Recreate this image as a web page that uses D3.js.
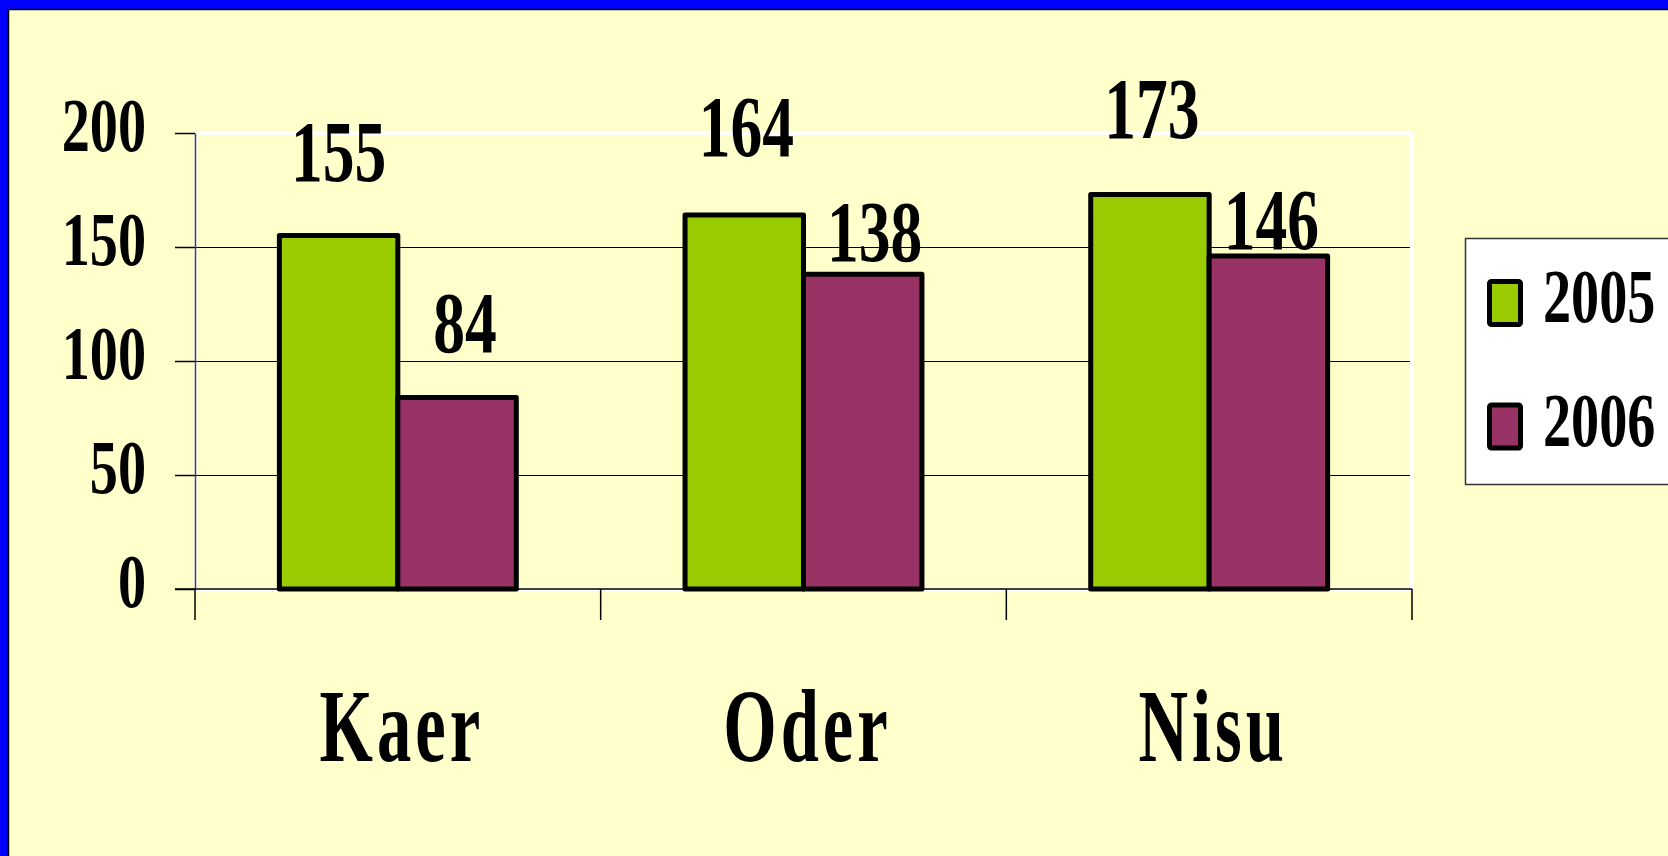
<!DOCTYPE html>
<html>
<head>
<meta charset="utf-8">
<script src="https://cdn.jsdelivr.net/npm/d3@7"></script>
<style>
  body { margin: 0; background: #0000ff; overflow: hidden; }
  svg { display: block; }
  text { font-family: "Liberation Serif", "Times New Roman", serif; font-weight: bold; fill: #000; }
</style>
</head>
<body>
<script>
// Data
const categories = ["Kaer", "Oder", "Nisu"];
const seriesNames = ["2005", "2006"];
const values2005 = [155, 164, 173];
const values2006 = [84, 138, 146];
const yTicks = [0, 50, 100, 150, 200];

// Layout
const WIDTH = 1668;
const HEIGHT = 856;
const PLOT = { left: 195, right: 1412, top: 133, bottom: 589 };
const COLORS = ["#99cc00", "#993366"];
const SQUEEZE = 0.73; // the original font is a narrow bold serif
// value labels were moved by hand in the original: gap above bar top, x shift
const labelGap = [[55, 59, 57], [45, 13, 7]];
const labelShift = [[0, 2, 2], [8, 12, 3]];

const series = [values2005, values2006];

const svg = d3.select("body")
  .append("svg")
  .attr("width", WIDTH)
  .attr("height", HEIGHT);

// slide frame: blue band on top and left, yellow page
svg.append("rect")
  .attr("x", 8.5)
  .attr("y", 9.5)
  .attr("width", WIDTH + 20)
  .attr("height", HEIGHT + 20)
  .attr("fill", "#ffffcc")
  .attr("stroke", "#000")
  .attr("stroke-width", 1.5);

// Scales
const x0 = d3.scaleBand()
  .domain(categories)
  .range([PLOT.left, PLOT.right])
  .paddingInner(0.416)
  .paddingOuter(0.208);

const x1 = d3.scaleBand()
  .domain(seriesNames)
  .range([0, x0.bandwidth()]);

const y = d3.scaleLinear()
  .domain([0, 200])
  .range([PLOT.bottom, PLOT.top]);

// plot area border (white)
svg.append("rect")
  .attr("x", PLOT.left)
  .attr("y", PLOT.top)
  .attr("width", PLOT.right - PLOT.left)
  .attr("height", PLOT.bottom - PLOT.top)
  .attr("fill", "none")
  .attr("stroke", "#fff")
  .attr("stroke-width", 4);

// gridlines
svg.append("g")
  .selectAll("line")
  .data(yTicks.filter((t) => t > 0 && t < 200))
  .enter()
  .append("line")
  .attr("x1", PLOT.left)
  .attr("x2", PLOT.right - 2)
  .attr("y1", (d) => Math.round(y(d)) + 0.5)
  .attr("y2", (d) => Math.round(y(d)) + 0.5)
  .attr("stroke", "#000")
  .attr("stroke-width", 1);

// bars
const groups = svg.append("g")
  .selectAll("g")
  .data(categories)
  .enter()
  .append("g")
  .attr("transform", (d) => `translate(${x0(d)},0)`);

groups.selectAll("rect")
  .data((d, i) => seriesNames.map((s, j) => ({ s, j, i, v: series[j][i] })))
  .enter()
  .append("rect")
  .attr("x", (d) => x1(d.s))
  .attr("y", (d) => y(d.v))
  .attr("width", x1.bandwidth())
  .attr("height", (d) => y(0) - y(d.v))
  .attr("fill", (d) => COLORS[d.j])
  .attr("stroke", "#000")
  .attr("stroke-width", 5)
  .attr("stroke-linejoin", "round");

// value labels
groups.selectAll(".val")
  .data((d, i) => seriesNames.map((s, j) => ({ s, j, i, v: series[j][i] })))
  .enter()
  .append("text")
  .attr("class", "val")
  .attr("text-anchor", "middle")
  .attr("transform", (d) => {
    const cx = x1(d.s) + x1.bandwidth() / 2 + labelShift[d.j][d.i];
    const cy = y(d.v) - labelGap[d.j][d.i];
    return `translate(${cx},${cy}) scale(${SQUEEZE},1)`;
  })
  .style("font-size", "87px")
  .text((d) => d.v);

// y axis
const yAxis = svg.append("g")
  .attr("transform", `translate(${PLOT.left},0)`)
  .call(d3.axisLeft(y).tickValues(yTicks).tickSize(20).tickSizeOuter(0));

yAxis.select(".domain").attr("stroke", "#444").attr("stroke-width", 1.5);
yAxis.selectAll(".tick line").attr("stroke", "#000").attr("stroke-width", 1.5);
yAxis.selectAll(".tick text")
  .attr("x", null)
  .attr("dy", null)
  .attr("text-anchor", "end")
  .attr("transform", `translate(-49,17) scale(${SQUEEZE},1)`)
  .attr("fill", "#000")
  .style("font-family", "'Liberation Serif', 'Times New Roman', serif")
  .style("font-weight", "bold")
  .style("font-size", "77px");

// x axis with ticks on category boundaries
const xAxis = svg.append("g");
xAxis.append("line")
  .attr("x1", PLOT.left - 20)
  .attr("x2", PLOT.right)
  .attr("y1", y(0))
  .attr("y2", y(0))
  .attr("stroke", "#000")
  .attr("stroke-width", 1.5);

const boundaries = categories.map((c) => x0(c) - x0.step() * x0.paddingOuter())
  .concat([PLOT.right]);

xAxis.selectAll(".xtick")
  .data(boundaries)
  .enter()
  .append("line")
  .attr("class", "xtick")
  .attr("x1", (d) => d)
  .attr("x2", (d) => d)
  .attr("y1", y(0))
  .attr("y2", y(0) + 31)
  .attr("stroke", "#000")
  .attr("stroke-width", 1.5);

xAxis.selectAll(".cat")
  .data(categories)
  .enter()
  .append("text")
  .attr("class", "cat")
  .attr("text-anchor", "middle")
  .attr("transform", (d) => `translate(${x0(d) + x0.bandwidth() / 2 + 4},761) scale(0.66,1)`)
  .style("font-size", "104px")
  .style("letter-spacing", "6px")
  .text((d) => d);

// legend
const legend = svg.append("g");
legend.append("rect")
  .attr("x", 1465.5)
  .attr("y", 238.5)
  .attr("width", 260)
  .attr("height", 246)
  .attr("fill", "#fff")
  .attr("stroke", "#333")
  .attr("stroke-width", 1.5);

const items = legend.selectAll(".item")
  .data(seriesNames)
  .enter()
  .append("g")
  .attr("class", "item")
  .attr("transform", (d, i) => `translate(1489.5,${281.5 + i * 123.5})`);

items.append("rect")
  .attr("width", 31)
  .attr("height", 43)
  .attr("rx", 2)
  .attr("fill", (d, i) => COLORS[i])
  .attr("stroke", "#000")
  .attr("stroke-width", 5);

items.append("text")
  .attr("transform", `translate(53.5,40.5) scale(${SQUEEZE},1)`)
  .style("font-size", "77px")
  .text((d) => d);
</script>
</body>
</html>
